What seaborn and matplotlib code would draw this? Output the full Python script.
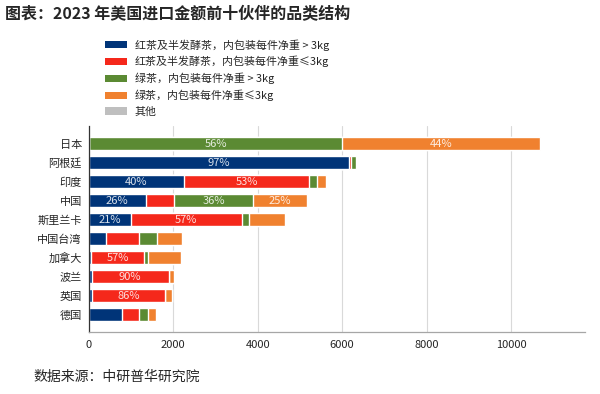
import numpy as np
import pandas as pd
import seaborn as sns
import matplotlib
matplotlib.use("Agg")
import matplotlib.pyplot as plt
from matplotlib.patches import Patch

# data (USD values)
countries = ["日本", "阿根廷", "印度", "中国", "斯里兰卡", "中国台湾", "加拿大", "波兰", "英国", "德国"]
black_big = [0, 6160, 2260, 1350, 990, 410, 60, 70, 85, 780]
black_small = [0, 50, 2950, 665, 2635, 770, 1250, 1820, 1710, 415]
green_big = [6000, 120, 185, 1880, 165, 430, 90, 0, 0, 210]
green_small = [4690, 0, 215, 1265, 850, 600, 780, 120, 185, 185]
other = [0, 0, 0, 0, 0, 0, 0, 0, 0, 0]

series_names = ["红茶及半发酵茶，内包装每件净重 > 3kg", "红茶及半发酵茶，内包装每件净重≤3kg",
                "绿茶，内包装每件净重 > 3kg", "绿茶，内包装每件净重≤3kg", "其他"]
colors = ["#003478", "#F5281B", "#5B8A33", "#F0812F", "#BFBFBF"]

# percentage labels that appear in the reference (country, series index, text)
pct_labels = [("日本", 2, "56%"), ("日本", 3, "44%"), ("阿根廷", 0, "97%"),
              ("印度", 0, "40%"), ("印度", 1, "53%"),
              ("中国", 0, "26%"), ("中国", 2, "36%"), ("中国", 3, "25%"),
              ("斯里兰卡", 0, "21%"), ("斯里兰卡", 1, "57%"),
              ("加拿大", 1, "57%"), ("波兰", 1, "90%"), ("英国", 1, "86%")]

df = pd.DataFrame({"country": countries, "s0": black_big, "s1": black_small,
                   "s2": green_big, "s3": green_small, "s4": other})
cols = ["s0", "s1", "s2", "s3", "s4"]
cum = df[cols].cumsum(axis=1)
for c in cols:
    df["cum_" + c] = cum[c]

sns.set_style("white")
plt.rcParams["font.family"] = ["Noto Sans CJK SC", "DejaVu Sans"]

fig = plt.figure(figsize=(6, 3.94), dpi=100)
ax = fig.add_axes([0.148, 0.158, 0.827, 0.522])

# stacked bars: draw cumulative totals from the top layer down
for c, col in reversed(list(zip(cols, colors))):
    sns.barplot(data=df, y="country", x="cum_" + c, color=col, orient="h",
                width=0.67, saturation=1, ax=ax, order=countries)

for country, idx, txt in pct_labels:
    row = df[df["country"] == country].iloc[0]
    start = row["cum_" + cols[idx]] - row[cols[idx]]
    center = start + row[cols[idx]] / 2
    ax.text(center, countries.index(country), txt, ha="center", va="center",
            color="white", alpha=0.85, fontsize=8)

ax.set_xlim(0, 11750)
ax.set_ylim(9.9, -0.93)
ax.set_xticks([0, 2000, 4000, 6000, 8000, 10000])
ax.set_xlabel("")
ax.set_ylabel("")
ax.grid(axis="x", color="#D9D9D9", linewidth=0.8)
ax.set_axisbelow(True)
for s in ["top", "right"]:
    ax.spines[s].set_visible(False)
ax.spines["left"].set_color("#333333")
ax.spines["left"].set_linewidth(0.9)
ax.spines["bottom"].set_color("#A6A6A6")
ax.spines["bottom"].set_linewidth(0.9)
ax.tick_params(axis="y", length=3, width=0.8, color="#333333", labelsize=8, pad=2)
ax.tick_params(axis="x", length=3, width=0.8, color="#A6A6A6", labelsize=8, pad=3)

handles = [Patch(facecolor=c, edgecolor="none") for c in colors]
fig.legend(handles, series_names, loc="upper left", bbox_to_anchor=(0.168, 0.912),
           frameon=False, fontsize=7.9, handlelength=2.0, handleheight=0.65,
           handletextpad=0.7, labelspacing=0.5, borderaxespad=0)

fig.text(0.008, 0.963, "图表：2023 年美国进口金额前十伙伴的品类结构", fontsize=11.5,
         fontweight="bold", ha="left", va="center")
fig.text(0.055, 0.043, "数据来源：中研普华研究院", fontsize=10, ha="left", va="center")

fig.savefig("out.png", dpi=100)
